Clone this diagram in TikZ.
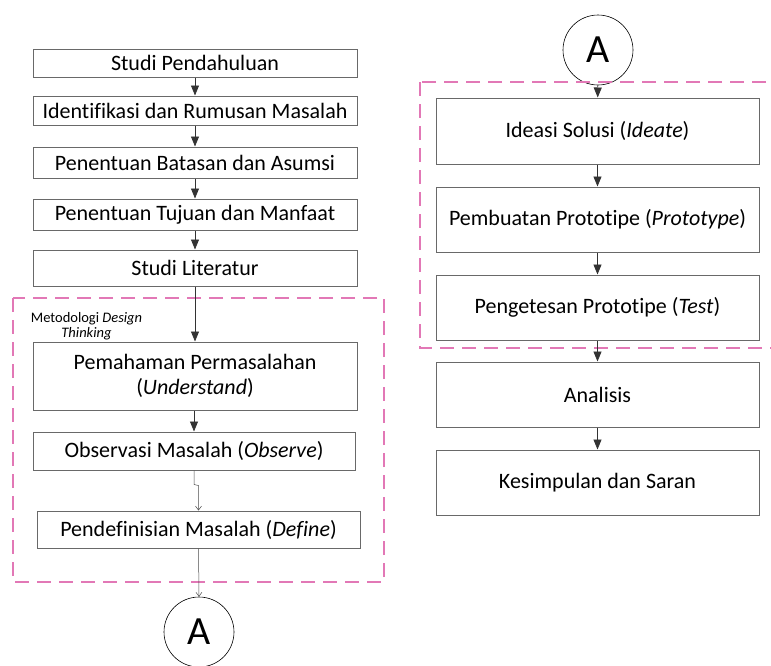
\documentclass[tikz,border=0pt]{standalone}
\usepackage{fontspec}
\setmainfont{Carlito}[Ligatures=NoCommon]
\usetikzlibrary{arrows.meta}
\definecolor{boxgray}{RGB}{105,105,105}
\definecolor{dashpink}{RGB}{226,120,182}
\begin{document}
\begin{tikzpicture}[x=1pt,y=-1pt]
\tikzstyle{box}=[draw=boxgray,line width=1pt,minimum width=324pt,inner sep=0pt,align=center,font=\fontsize{22}{25.5}\selectfont]
\tikzstyle{conn}=[draw=black,circle,line width=.6pt,minimum size=70pt,inner sep=0pt,font=\fontsize{40}{40}\selectfont]
\tikzstyle{arr}=[-{Triangle[length=10pt,width=8pt]},line width=.8pt,draw=black!80]
\tikzstyle{thin}=[-{Straight Barb[length=4pt,width=6pt]},line width=.5pt,draw=black!70]
\tikzstyle{group}=[draw=dashpink,line width=1.2pt,dash pattern=on 14pt off 8pt]
\path[use as bounding box,clip] (0,0) rectangle (771,665);
    % left column
    \node[box,minimum height=28pt] (s1) at (195,63) {Studi Pendahuluan};
    \node[box,minimum height=29pt] (s2) at (195,110.5) {Identifikasi dan Rumusan Masalah};
    \node[box,minimum height=31pt] (s3) at (195,162.5) {Penentuan Batasan dan Asumsi};
    \node[box,minimum height=31pt] (s4) at (195,214.5) {Penentuan Tujuan dan Manfaat};
    \node[box,minimum height=36pt] (s5) at (195,268) {Studi Literatur};
    \draw[group] (13,298) rectangle (384,582);
    \node[align=center,font=\fontsize{14.5}{15}\selectfont,inner sep=0pt] (lbl) at (86.5,326) {Metodologi \textit{Design}\\\textit{Thinking}};
    \node[box,minimum height=68pt] (s6) at (195,376) {Pemahaman Permasalahan\\(\textit{Understand})};
    \node[box,minimum height=38pt,minimum width=322pt] (s7) at (194,451) {Observasi Masalah (\textit{Observe})};
    \node[box,minimum height=37pt,minimum width=323pt] (s8) at (198.5,529.5) {Pendefinisian Masalah (\textit{Define})};
    \node[conn] (a1) at (199,632) {A};
    \draw[arr] (s1) to (s2);
    \draw[arr] (s2) to (s3);
    \draw[arr] (s3) to (s4);
    \draw[arr] (s4) to (s5);
    \draw[arr] (s5) to (s6);
    \draw[arr] (s6.south -| s7.south) to (s7.north);
    \draw[thin] (s7.south) -- ++(0,14) -- ([yshift=25pt]s8.north) -- (s8.north);
    \draw[thin] (s8.south) to (a1.north);
    % right column
    \node[conn] (a2) at (598,50) {A};
    \draw[group] (420,82) rectangle (800,348);
    \node[box,minimum height=66pt,minimum width=323pt] (t1) at (597.5,131) {Ideasi Solusi (\textit{Ideate})};
    \node[box,minimum height=65pt,minimum width=323pt] (t2) at (597.5,219.5) {Pembuatan Prototipe (\textit{Prototype})};
    \node[box,minimum height=65pt,minimum width=323pt] (t3) at (597.5,307.5) {Pengetesan Prototipe (\textit{Test})};
    \node[box,minimum height=65pt,minimum width=323pt] (t4) at (597.5,394.5) {Analisis};
    \node[box,minimum height=65pt,minimum width=323pt] (t5) at (597.5,482.5) {Kesimpulan dan Saran};
    \draw[arr] (a2) to (t1);
    \draw[arr] (t1) to (t2);
    \draw[arr] (t2) to (t3);
    \draw[arr] (t3) to (t4);
    \draw[arr] (t4) to (t5);
\end{tikzpicture}
\end{document}
